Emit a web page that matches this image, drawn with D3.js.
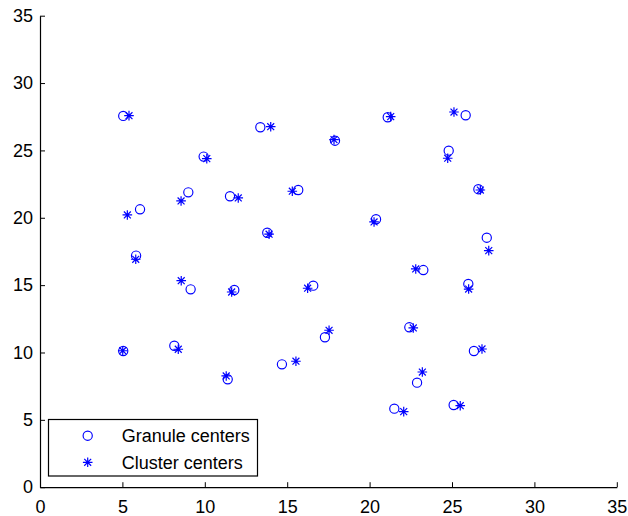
<!DOCTYPE html>
<html>
<head>
<meta charset="utf-8">
<script src="https://cdn.jsdelivr.net/npm/d3@7"></script>
<style>
  html, body { margin: 0; padding: 0; background: #fff; }
  svg { display: block; }
  text { font-family: "Liberation Sans", Arial, sans-serif; fill: #000; }
</style>
</head>
<body>
<svg id="chart" width="628" height="516"></svg>
<script>
// Granule centers (circles)
const granuleX = [5.05, 13.37, 9.93, 9.00, 11.53, 15.67, 21.10, 17.90, 25.83, 24.80, 26.60,
  6.07, 5.83, 13.79, 9.14, 11.79, 20.39, 27.11, 23.26, 16.58, 25.99,
  5.05, 8.15, 11.39, 14.68, 17.29, 22.41, 26.33, 22.88, 21.50, 25.10];
const granuleY = [27.56, 26.72, 24.54, 21.89, 21.60, 22.06, 27.46, 25.72, 27.61, 24.98, 22.12,
  20.63, 17.19, 18.89, 14.69, 14.64, 19.89, 18.52, 16.12, 14.96, 15.09,
  10.11, 10.50, 8.01, 9.12, 11.13, 11.87, 10.11, 7.76, 5.83, 6.10];
// Cluster centers (stars)
const clusterX = [5.40, 14.00, 10.12, 8.56, 12.03, 15.31, 21.28, 17.84, 25.12, 24.74, 26.72,
  5.30, 5.81, 13.90, 8.57, 11.63, 20.27, 27.23, 22.80, 16.24, 26.01,
  5.02, 8.39, 11.30, 15.53, 17.54, 22.65, 26.82, 23.20, 22.07, 25.50];
const clusterY = [27.58, 26.76, 24.39, 21.25, 21.47, 21.97, 27.51, 25.80, 27.85, 24.42, 22.06,
  20.21, 16.92, 18.78, 15.33, 14.49, 19.69, 17.56, 16.20, 14.77, 14.71,
  10.13, 10.24, 8.26, 9.35, 11.65, 11.82, 10.26, 8.55, 5.61, 6.05];
const xTicks = [0, 5, 10, 15, 20, 25, 30, 35];
const yTicks = [0, 5, 10, 15, 20, 25, 30, 35];
const legendLabels = ["Granule centers", "Cluster centers"];

const svg = d3.select("#chart");
const x = d3.scaleLinear().domain([0, 35]).range([40, 616.8]);
const y = d3.scaleLinear().domain([0, 35]).range([487.2, 15.7]);
const blue = "#0000ff";

const xAxis = d3.axisBottom(x).tickValues(xTicks).tickSizeInner(-5).tickSizeOuter(0).tickPadding(11);
const yAxis = d3.axisLeft(y).tickValues(yTicks).tickSizeInner(-5).tickSizeOuter(0).tickPadding(7);

const gx = svg.append("g").attr("transform", "translate(0,487.2)").call(xAxis);
const gy = svg.append("g").attr("transform", "translate(40,0)").call(yAxis);
[gx, gy].forEach(g => {
  g.select(".domain").attr("stroke", "#000").attr("stroke-width", 1.2);
  g.selectAll(".tick line").attr("stroke", "#000");
  g.selectAll(".tick text").attr("font-size", 18).attr("fill", "#000")
    .attr("font-family", '"Liberation Sans", Arial, sans-serif');
});
gx.selectAll(".tick text").attr("dy", "0.8em");

const granules = granuleX.map((v, i) => [v, granuleY[i]]);
const clusters = clusterX.map((v, i) => [v, clusterY[i]]);

const r = 4.6;
const s = 4.8, d = s * 0.72;
const starPath = `M${-s},0L${s},0M0,${-s}L0,${s}M${-d},${-d}L${d},${d}M${-d},${d}L${d},${-d}`;

const plot = svg.append("g");
plot.selectAll("circle.g").data(granules).join("circle")
  .attr("class", "g")
  .attr("cx", p => x(p[0])).attr("cy", p => y(p[1])).attr("r", r)
  .attr("fill", "none").attr("stroke", blue).attr("stroke-width", 1.15);
plot.selectAll("path.c").data(clusters).join("path")
  .attr("class", "c")
  .attr("transform", p => `translate(${x(p[0])},${y(p[1])})`)
  .attr("d", starPath)
  .attr("fill", "none").attr("stroke", blue).attr("stroke-width", 1.2);

// Legend
const leg = svg.append("g");
leg.append("rect").attr("x", 48.5).attr("y", 419.5).attr("width", 209).attr("height", 56.5)
  .attr("fill", "#fff").attr("stroke", "#000").attr("stroke-width", 1.2);
leg.append("circle").attr("cx", 87.7).attr("cy", 435.7).attr("r", r)
  .attr("fill", "none").attr("stroke", blue).attr("stroke-width", 1.15);
leg.append("path").attr("transform", "translate(87.7,462.3)").attr("d", starPath)
  .attr("fill", "none").attr("stroke", blue).attr("stroke-width", 1.2);
leg.selectAll("text").data(legendLabels).join("text")
  .attr("x", 121.7).attr("y", (t, i) => i === 0 ? 442 : 468.5)
  .attr("font-size", 18).text(t => t);
</script>
</body>
</html>
